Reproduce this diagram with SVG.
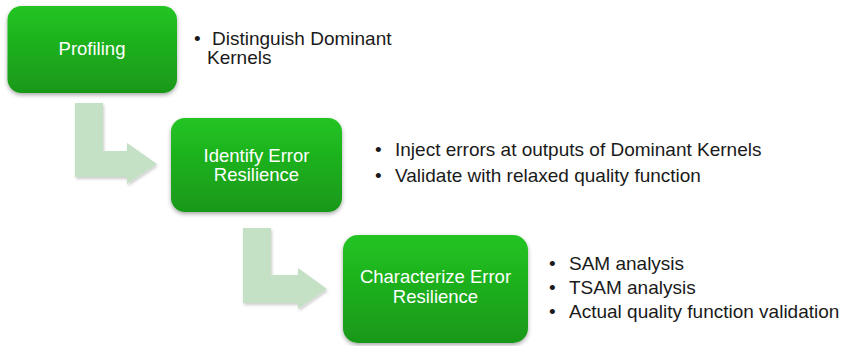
<svg xmlns="http://www.w3.org/2000/svg" width="843" height="346" viewBox="0 0 843 346">
<defs>
<linearGradient id="g" x1="0" y1="0" x2="0" y2="1">
<stop offset="0" stop-color="#22c422"/>
<stop offset="1" stop-color="#199819"/>
</linearGradient>
<filter id="sh" x="-10%" y="-10%" width="120%" height="130%">
<feDropShadow dx="0" dy="2" stdDeviation="2" flood-color="#000" flood-opacity="0.35"/>
</filter>
<filter id="sh2" x="-10%" y="-10%" width="130%" height="130%">
<feDropShadow dx="1" dy="2" stdDeviation="1.5" flood-color="#000" flood-opacity="0.2"/>
</filter>
</defs>
<style>
.box{fill:url(#g);filter:url(#sh)}
.bt{font-family:"Liberation Sans",Arial,sans-serif;font-size:18.5px;fill:#ffffff;text-anchor:middle}
.t{font-family:"Liberation Sans",Arial,sans-serif;font-size:19px;fill:#1a1a1a}
.arr{fill:#c4e0c5;filter:url(#sh2)}
</style>
<rect width="843" height="346" fill="#ffffff"/>
<g id="connectors">
<polygon class="arr" points="75,103 103,103 103,151 127,151 127,143 157,164 127,184 127,177 75,177"/>
<polygon class="arr" points="243,228 271,228 271,275 298,275 298,268 327,289 298,309 298,303 243,303"/>
</g>
<g id="profiling">
<rect class="box" x="7.5" y="6" width="169.5" height="87" rx="14"/>
<text class="bt" x="92" y="55">Profiling</text>
</g>
<g id="identify">
<rect class="box" x="171" y="118" width="171" height="94" rx="14"/>
<text class="bt" x="256.5" y="162">Identify Error</text>
<text class="bt" x="256.5" y="181">Resilience</text>
</g>
<g id="characterize">
<rect class="box" x="343" y="235" width="185" height="108" rx="15"/>
<text class="bt" x="435.5" y="283">Characterize Error</text>
<text class="bt" x="435.5" y="303">Resilience</text>
</g>
<g id="notes1">
<text class="t" x="194" y="45">•</text>
<text class="t" x="212" y="45">Distinguish Dominant</text>
<text class="t" x="207" y="64">Kernels</text>
</g>
<g id="notes2">
<text class="t" x="375" y="156">•</text>
<text class="t" x="395" y="156">Inject errors at outputs of Dominant Kernels</text>
<text class="t" x="375" y="182">•</text>
<text class="t" x="395" y="182">Validate with relaxed quality function</text>
</g>
<g id="notes3">
<text class="t" x="549" y="270">•</text>
<text class="t" x="569" y="270">SAM analysis</text>
<text class="t" x="549" y="294">•</text>
<text class="t" x="569" y="294">TSAM analysis</text>
<text class="t" x="549" y="318">•</text>
<text class="t" x="569" y="318">Actual quality function validation</text>
</g>
</svg>
